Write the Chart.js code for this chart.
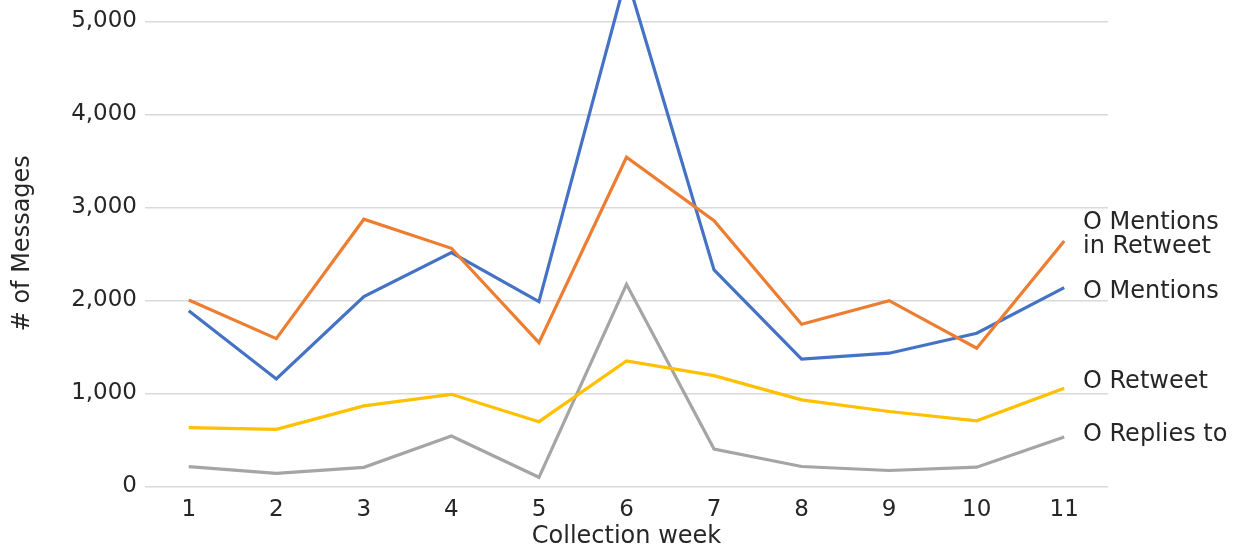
<!DOCTYPE html>
<html>
<head>
<meta charset="utf-8">
<script src="https://cdn.jsdelivr.net/npm/chart.js@4.4.0/dist/chart.umd.min.js"></script>
<style>
  html, body { margin: 0; padding: 0; background: #ffffff; }
  #wrap { width: 1237px; height: 552px; position: relative; }
</style>
</head>
<body>
<div id="wrap"><canvas id="c" width="1237" height="552"></canvas></div>
<script>
const weeks = ['1','2','3','4','5','6','7','8','9','10','11'];
const mentionsInRetweet = [2005, 1590, 2873, 2561, 1546, 3540, 2857, 1744, 1998, 1487, 2639];
const mentions = [1890, 1156, 2041, 2514, 1987, 5490, 2328, 1369, 1433, 1648, 2138];
const retweet = [632, 615, 866, 991, 697, 1350, 1192, 931, 806, 706, 1057];
const repliesTo = [213, 142, 206, 543, 99, 2174, 402, 215, 172, 208, 531];
const seriesNames = [['O Mentions', 'in Retweet'], ['O Mentions'], ['O Retweet'], ['O Replies to']];
const yTickValues = [0, 1000, 2000, 3000, 4000, 5000];

const FONT = "'DejaVu Sans', sans-serif";
const TXT = '#262626';

const endLabels = {
  id: 'endLabels',
  afterDatasetsDraw(chart) {
    const ctx = chart.ctx;
    const y = chart.scales.y;
    const nudges = [[-18, 6], [4], [-6], [-2]];
    ctx.save();
    ctx.font = '24px ' + FONT;
    ctx.fillStyle = TXT;
    ctx.textAlign = 'left';
    ctx.textBaseline = 'middle';
    chart.data.datasets.forEach((ds, i) => {
      const last = ds.data[ds.data.length - 1];
      const py = y.getPixelForValue(last);
      seriesNames[i].forEach((line, j) => {
        ctx.fillText(line, chart.chartArea.right - 25, py + nudges[i][j]);
      });
    });
    ctx.restore();
  }
};

new Chart(document.getElementById('c'), {
  type: 'line',
  data: {
    labels: weeks,
    datasets: [
      { label: 'O Mentions in Retweet', data: mentionsInRetweet, borderColor: '#ED7D31' },
      { label: 'O Mentions', data: mentions, borderColor: '#4472C4' },
      { label: 'O Retweet', data: retweet, borderColor: '#FFC000' },
      { label: 'O Replies to', data: repliesTo, borderColor: '#A5A5A5' }
    ].map(d => Object.assign(d, { borderWidth: 3.2, pointRadius: 0, tension: 0, fill: false, borderJoinStyle: 'miter' }))
  },
  options: {
    responsive: false,
    animation: false,
    layout: { padding: { left: 0, right: 129, top: 0, bottom: 0 } },
    plugins: { legend: { display: false }, tooltip: { enabled: false } },
    scales: {
      x: {
        type: 'category',
        offset: true,
        grid: { display: false, drawTicks: false },
        border: { display: false },
        ticks: { color: TXT, font: { family: FONT, size: 23 }, padding: 10, maxRotation: 0 },
        title: { display: true, text: 'Collection week', color: TXT, font: { family: FONT, size: 24 }, padding: { top: 0, bottom: 1 } },
        afterFit(scale) { scale.height = 65.5; scale.paddingLeft = 0; scale.paddingRight = 0; }
      },
      y: {
        min: 0,
        max: 5230,
        grid: { color: '#d9d9d9', lineWidth: 1.5, drawTicks: false },
        border: { display: false },
        afterBuildTicks(scale) { scale.ticks = yTickValues.map(v => ({ value: v })); },
        ticks: {
          color: TXT, font: { family: FONT, size: 23 }, padding: 8,
          callback: v => v.toLocaleString('en-US')
        },
        title: { display: true, text: '# of Messages', color: TXT, font: { family: FONT, size: 24 }, padding: 8 },
        afterFit(scale) { scale.width = 145; scale.paddingTop = 0; scale.paddingBottom = 0; }
      }
    }
  },
  plugins: [endLabels]
});
</script>
</body>
</html>
